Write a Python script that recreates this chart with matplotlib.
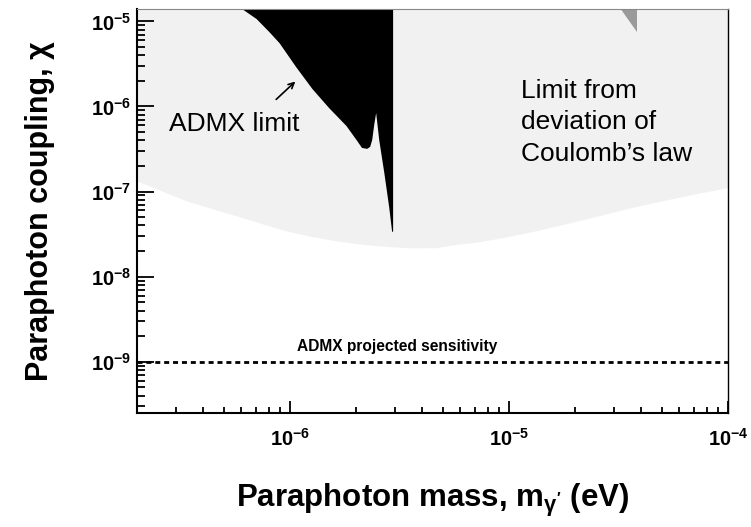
import numpy as np
import matplotlib
matplotlib.use('Agg')
import matplotlib.pyplot as plt

plt.rcParams['font.family'] = ['Liberation Sans', 'DejaVu Sans']
plt.rcParams['mathtext.fontset'] = 'custom'
plt.rcParams['mathtext.rm'] = 'Liberation Sans'
plt.rcParams['mathtext.bf'] = 'Liberation Sans:bold'
plt.rcParams['mathtext.default'] = 'bf'

# Limite por desviacion de la ley de Coulomb (borde inferior de la zona gris)
coulomb_mass = [2.0e-7, 2.59e-7, 3.37e-7, 4.38e-7, 5.69e-7, 7.38e-7, 9.59e-7,
                1.25e-6, 1.62e-6, 2.10e-6, 2.73e-6, 3.55e-6, 4.61e-6, 5.56e-6,
                7.22e-6, 9.39e-6, 1.22e-5, 1.58e-5, 2.06e-5, 2.67e-5, 3.47e-5,
                4.51e-5, 5.87e-5, 7.62e-5, 1.0e-4]
coulomb_chi = [1.33e-7, 1.02e-7, 7.76e-8, 6.32e-8, 5.18e-8, 4.22e-8, 3.45e-8,
               2.97e-8, 2.64e-8, 2.41e-8, 2.27e-8, 2.18e-8, 2.19e-8, 2.37e-8,
               2.56e-8, 2.89e-8, 3.30e-8, 3.85e-8, 4.52e-8, 5.32e-8, 6.32e-8,
               7.35e-8, 8.51e-8, 9.73e-8, 1.12e-7]

# Limite ADMX (borde inferior de la zona negra)
admx_mass = [6.05e-7, 7.0e-7, 8.0e-7, 8.91e-7, 1.06e-6, 1.26e-6, 1.50e-6, 1.80e-6,
             2.0e-6, 2.12e-6, 2.24e-6, 2.31e-6, 2.36e-6, 2.41e-6, 2.46e-6,
             2.54e-6, 2.68e-6, 2.82e-6, 2.91e-6, 2.94e-6]
admx_chi = [1.4e-5, 1.08e-5, 7.6e-6, 5.62e-6, 2.95e-6, 1.62e-6, 9.72e-7, 5.98e-7,
            4.10e-7, 3.30e-7, 3.22e-7, 3.40e-7, 4.10e-7, 6.15e-7, 8.5e-7,
            4.10e-7, 1.68e-7, 6.7e-8, 3.42e-8, 3.42e-8]

# Pequena zona gris oscura arriba a la derecha
other_mass = [3.23e-5, 3.82e-5]
other_chi = [1.4e-5, 7.6e-6]

projected_chi = 1e-9

xmin, xmax = 2e-7, 1e-4
ymin, ymax = 2.5e-10, 1.4e-5

fig = plt.figure(figsize=(7.51, 5.27), dpi=100)
ax = fig.add_axes([0.1824, 0.2163, 0.787, 0.7667])

ax.fill_between(coulomb_mass, coulomb_chi, ymax, color='#f1f1f1', lw=0)
ax.fill_between(admx_mass, admx_chi, ymax, color='black', lw=0)
ax.fill_between(other_mass, other_chi, ymax, color='#9a9a9a', lw=0)
ax.axhline(projected_chi, color='black', lw=2, dashes=(1.8, 1.4))

ax.set_xscale('log')
ax.set_yscale('log')
ax.set_xlim(xmin, xmax)
ax.set_ylim(ymin, ymax)

xticks = [1e-6, 1e-5, 1e-4]
ax.set_xticks(xticks)
ax.set_xticklabels([r'$10^{-6}$', r'$10^{-5}$', r'$10^{-4}$'])
yticks = [1e-9, 1e-8, 1e-7, 1e-6, 1e-5]
ax.set_yticks(yticks)
ax.set_yticklabels([r'$10^{-9}$', r'$10^{-8}$', r'$10^{-7}$', r'$10^{-6}$', r'$10^{-5}$'])

ax.tick_params(axis='both', which='both', direction='in', top=False, right=False,
               width=1.3, labelsize=14.5)
ax.tick_params(axis='y', which='major', length=12, pad=4)
ax.tick_params(axis='y', which='minor', length=6)
ax.tick_params(axis='x', which='major', length=9, pad=11)
ax.tick_params(axis='x', which='minor', length=4.5)

ax.spines['left'].set_linewidth(1.5)
ax.spines['bottom'].set_linewidth(1.5)
ax.spines['right'].set_linewidth(1.0)
ax.spines['top'].set_linewidth(0.8)
ax.spines['top'].set_color('#888888')

ax.set_xlabel(r"Paraphoton mass, m$_{\gamma'}$ (eV)", fontsize=22.5, fontweight='bold', labelpad=23)
ax.set_ylabel(r'Paraphoton coupling, χ', fontsize=22, fontweight='bold', labelpad=26)

ax.text(2.8e-7, 5.1e-7, 'ADMX limit', fontsize=19, va='baseline', ha='left')
ax.annotate('', xy=(1.08e-6, 2.07e-6), xytext=(8.46e-7, 1.15e-6),
            arrowprops=dict(arrowstyle='->', lw=1.2, color='black'))
ax.text(1.135e-5, 2.13e-6, "Limit from\ndeviation of\nCoulomb’s law", fontsize=19,
        va='top', ha='left', linespacing=1.4)
ax.text(3.1e-6, 1.34e-9, 'ADMX projected sensitivity', fontsize=11.2, fontweight='bold',
        va='baseline', ha='center')

fig.savefig('out.png', dpi=100)
